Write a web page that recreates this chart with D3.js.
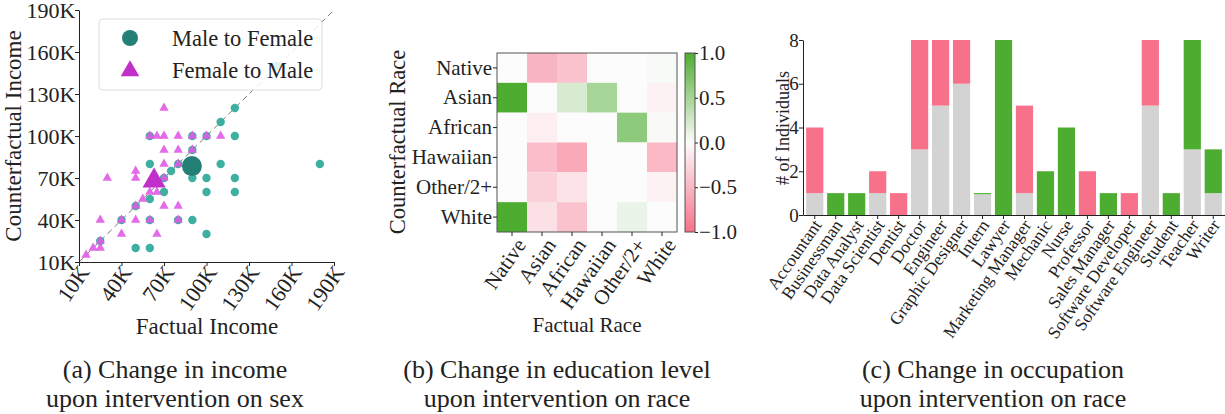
<!DOCTYPE html>
<html>
<head>
<meta charset="utf-8">
<script src="https://cdn.jsdelivr.net/npm/d3@7"></script>
<style>
  body { margin: 0; background: #fff; }
</style>
</head>
<body>
<svg id="fig" width="1225" height="414" font-family="Liberation Serif"></svg>
<script>
// (a) income, in thousands
const incomeTicks = [10, 40, 70, 100, 130, 160, 190];
const m2fFactual =        [120, 110, 120, 100, 90, 60, 90, 60, 80, 110, 180, 75, 70, 90, 100, 120, 70, 100, 120, 60, 50, 40, 60, 80, 90, 100, 50, 60, 25, 150];
const m2fCounterfactual = [120, 110, 100, 100, 100, 100, 90, 80, 80, 80, 80, 75, 70, 70, 70, 70, 60, 60, 60, 55, 50, 40, 40, 40, 40, 30, 20, 20, 25, 150];
const f2mFactual =        [70, 60, 65, 70, 80, 90, 100, 110, 70, 80, 90, 70, 80, 30, 50, 50, 70, 60, 65, 55, 50, 70, 80, 25, 40, 50, 60, 80, 40, 65, 20, 25, 15, 25];
const f2mCounterfactual = [120, 100, 100, 100, 100, 100, 100, 100, 90, 90, 90, 80, 80, 70, 75, 70, 70, 60, 60, 55, 50, 50, 50, 40, 40, 40, 40, 40, 30, 30, 20, 20, 15, 25];
const m2fMean = [89.7, 78.5];
const f2mMean = [63, 68];

// (b) race transition matrix, rows = counterfactual, cols = factual
const races = ['Native', 'Asian', 'African', 'Hawaiian', 'Other/2+', 'White'];
const raceMatrix = [
  [0, -0.52, -0.42, 0, 0, 0.03],
  [1.0, 0, 0.22, 0.49, 0, -0.08],
  [0, -0.1, 0, 0, 0.63, 0.02],
  [0, -0.45, -0.6, 0, 0, -0.48],
  [0, -0.31, -0.18, 0, 0, -0.08],
  [1.0, -0.2, -0.42, 0, 0.1, 0]
];
const colorTicks = [1.0, 0.5, 0.0, -0.5, -1.0];

// (c) occupations
const occupations = ['Accountant', 'Businessman', 'Data Analyst', 'Data Scientist', 'Dentist', 'Doctor', 'Engineer',
  'Graphic Designer', 'Intern', 'Lawyer', 'Marketing Manager', 'Mechanic', 'Nurse', 'Professor', 'Sales Manager',
  'Software Developer', 'Software Engineer', 'Student', 'Teacher', 'Writer'];
const unchanged = [1, 0, 0, 1, 0, 3, 5, 6, 0.95, 0, 1, 0, 0, 0, 0, 0, 5, 0, 3, 1];
const decreased = [3, 0, 0, 1, 1, 5, 3, 2, 0, 0, 4, 0, 0, 2, 0, 1, 3, 0, 0, 0];
const increased = [0, 1, 1, 0, 0, 0, 0, 0, 0.05, 8, 0, 2, 4, 0, 1, 0, 0, 1, 5, 2];
const countTicks = [0, 2, 4, 6, 8];

const svg = d3.select('#fig');
const FONT = 'Liberation Serif';
const ink = '#222';
const pink = '#f7718a', green = '#4dad30', grey = '#d3d3d3';

// ---------------- (a) scatter ----------------
const xA = d3.scaleLinear().domain([10, 190]).range([79, 334]);
const yA = d3.scaleLinear().domain([10, 190]).range([262, 10]);
const gA = svg.append('g');

// diagonal
gA.append('line')
  .attr('x1', xA(10)).attr('y1', yA(10)).attr('x2', xA(190)).attr('y2', yA(190))
  .attr('stroke', '#777').attr('stroke-width', 1).attr('stroke-dasharray', '6,4');

gA.selectAll('circle.m2f')
  .data(m2fFactual)
  .enter().append('circle')
  .attr('cx', d => xA(d))
  .attr('cy', (d, i) => yA(m2fCounterfactual[i]))
  .attr('r', 4.2)
  .attr('fill', '#2fa89a').attr('fill-opacity', 0.92);

const triSmall = d3.symbol().type(d3.symbolTriangle).size(38);
gA.selectAll('path.f2m')
  .data(f2mFactual)
  .enter().append('path')
  .attr('d', triSmall)
  .attr('transform', (d, i) => `translate(${xA(d)},${yA(f2mCounterfactual[i])})`)
  .attr('fill', '#e05ae6').attr('fill-opacity', 0.9);

// means
gA.append('circle')
  .attr('cx', xA(m2fMean[0])).attr('cy', yA(m2fMean[1])).attr('r', 10)
  .attr('fill', '#247f76');
gA.append('path')
  .attr('d', d3.symbol().type(d3.symbolTriangle).size(230))
  .attr('transform', `translate(${xA(f2mMean[0])},${yA(f2mMean[1])})`)
  .attr('fill', '#c22ec9');

// axes
const axA = gA.append('g').attr('transform', `translate(0,${yA(10)})`)
  .call(d3.axisBottom(xA).tickValues(incomeTicks).tickFormat(d => d + 'K').tickSize(4).tickSizeOuter(0));
axA.selectAll('text')
  .attr('font-size', 22)
  .attr('text-anchor', 'end')
  .attr('transform', 'rotate(-55)')
  .attr('dx', '-0.1em').attr('dy', '0.35em');
const ayA = gA.append('g').attr('transform', `translate(${xA(10)},0)`)
  .call(d3.axisLeft(yA).tickValues(incomeTicks).tickFormat(d => d + 'K').tickSize(4).tickSizeOuter(0));
ayA.selectAll('text').attr('font-size', 22).attr('dx', '0.15em');

gA.append('text').attr('x', 207).attr('y', 334).attr('text-anchor', 'middle')
  .attr('font-size', 23).attr('fill', ink).text('Factual Income');
gA.append('text').attr('transform', 'translate(21,136) rotate(-90)').attr('text-anchor', 'middle')
  .attr('font-size', 23).attr('fill', ink).text('Counterfactual Income');

// legend
const legA = gA.append('g');
legA.append('rect').attr('x', 99).attr('y', 19).attr('width', 223).attr('height', 71).attr('rx', 4)
  .attr('fill', '#fff').attr('fill-opacity', 0.85).attr('stroke', '#ddd');
legA.append('circle').attr('cx', 130).attr('cy', 38).attr('r', 8).attr('fill', '#247f76');
legA.append('path').attr('d', d3.symbol().type(d3.symbolTriangle).size(150))
  .attr('transform', 'translate(130,71)').attr('fill', '#c22ec9');
legA.append('text').attr('x', 172).attr('y', 46).attr('font-size', 22.5).attr('fill', ink).text('Male to Female');
legA.append('text').attr('x', 172).attr('y', 78).attr('font-size', 22.5).attr('fill', ink).text('Female to Male');

// ---------------- (b) heatmap ----------------
const xB = d3.scaleBand().domain(races).range([497, 677]);
const yB = d3.scaleBand().domain(races).range([53, 232]);
const colorB = d3.scaleLinear().domain([-1, 0, 1]).range([pink, '#fcfcfc', green]);
const gB = svg.append('g');

const cells = [];
raceMatrix.forEach((row, r) => row.forEach((v, c) => cells.push({ r: races[r], c: races[c], v })));
gB.selectAll('rect.cell')
  .data(cells)
  .enter().append('rect')
  .attr('x', d => xB(d.c)).attr('y', d => yB(d.r))
  .attr('width', xB.bandwidth()).attr('height', yB.bandwidth())
  .attr('fill', d => colorB(d.v));
gB.append('rect').attr('x', 497).attr('y', 53).attr('width', 180).attr('height', 179)
  .attr('fill', 'none').attr('stroke', '#555').attr('stroke-width', 1);

const axB = gB.append('g').attr('transform', 'translate(0,232)')
  .call(d3.axisBottom(xB).tickSize(4).tickSizeOuter(0));
axB.select('.domain').remove();
axB.selectAll('text')
  .attr('font-size', 21)
  .attr('text-anchor', 'end')
  .attr('transform', 'rotate(-55)')
  .attr('dx', '-0.1em').attr('dy', '0.6em');
const ayB = gB.append('g').attr('transform', 'translate(497,0)')
  .call(d3.axisLeft(yB).tickSize(4).tickSizeOuter(0));
ayB.select('.domain').remove();
ayB.selectAll('text').attr('font-size', 21).attr('dx', '0.1em');

gB.append('text').attr('x', 587).attr('y', 332).attr('text-anchor', 'middle')
  .attr('font-size', 21).attr('fill', ink).text('Factual Race');
gB.append('text').attr('transform', 'translate(405,142) rotate(-90)').attr('text-anchor', 'middle')
  .attr('font-size', 22.5).attr('fill', ink).text('Counterfactual Race');

// colorbar
const yCb = d3.scaleLinear().domain([-1, 1]).range([232, 53]);
const grad = svg.append('defs').append('linearGradient').attr('id', 'cbar')
  .attr('x1', 0).attr('y1', 1).attr('x2', 0).attr('y2', 0);
d3.range(-1, 1.001, 0.1).forEach(v => {
  grad.append('stop').attr('offset', ((v + 1) / 2 * 100) + '%').attr('stop-color', colorB(v));
});
gB.append('rect').attr('x', 685).attr('y', 53).attr('width', 10).attr('height', 179)
  .attr('fill', 'url(#cbar)').attr('stroke', '#555').attr('stroke-width', 1);
const cb = gB.append('g').attr('transform', 'translate(695,0)')
  .call(d3.axisRight(yCb).tickValues(colorTicks).tickFormat(d => d3.format('.1f')(d).replace('-', '\u2212')).tickSize(3).tickSizeOuter(0));
cb.select('.domain').remove();
cb.selectAll('text').attr('font-size', 21).attr('dx', '-0.1em');

// ---------------- (c) stacked bars ----------------
const xC = d3.scaleBand().domain(occupations).range([803, 1225]).paddingInner(0.18).paddingOuter(0.15);
const yC = d3.scaleLinear().domain([0, 8]).range([215, 40]);
const gC = svg.append('g');
const stackData = occupations.map((o, i) => ({ o, unchanged: unchanged[i], decreased: decreased[i], increased: increased[i] }));
const series = d3.stack().keys(['unchanged', 'decreased', 'increased'])(stackData);
const colC = { unchanged: grey, decreased: pink, increased: green };
series.forEach(s => {
  gC.selectAll(null)
    .data(s)
    .enter().append('rect')
    .attr('x', d => xC(d.data.o))
    .attr('y', d => yC(d[1]))
    .attr('width', xC.bandwidth())
    .attr('height', d => yC(d[0]) - yC(d[1]))
    .attr('fill', colC[s.key]);
});

const axC = gC.append('g').attr('transform', 'translate(0,215)')
  .call(d3.axisBottom(xC).tickSize(4).tickSizeOuter(0));
axC.selectAll('text')
  .attr('font-size', 17.5)
  .attr('text-anchor', 'end')
  .attr('transform', 'rotate(-55)')
  .attr('y', 11.9).attr('dx', -3.9).attr('dy', 0);
const ayC = gC.append('g').attr('transform', 'translate(803,0)')
  .call(d3.axisLeft(yC).tickValues(countTicks).tickSize(4).tickSizeOuter(0));
ayC.selectAll('text').attr('font-size', 19).attr('dx', '0.15em');
gC.append('text').attr('transform', 'translate(789,128) rotate(-90)').attr('text-anchor', 'middle')
  .attr('font-size', 18).attr('fill', ink).text('# of Individuals');

// shared axis styling (d3 axes set their own sans-serif font)
[axA, ayA, axB, ayB, cb, axC, ayC].forEach(a => {
  a.attr('font-family', FONT);
  a.selectAll('text').attr('fill', ink);
  a.selectAll('line').attr('stroke', ink);
  a.select('.domain').attr('stroke', ink);
});

// ---------------- captions ----------------
const captions = [
  { x: 175, lines: ['(a) Change in income', 'upon intervention on sex'] },
  { x: 557, lines: ['(b) Change in education level', 'upon intervention on race'] },
  { x: 993, lines: ['(c) Change in occupation', 'upon intervention on race'] }
];
captions.forEach(c => {
  c.lines.forEach((t, i) => {
    svg.append('text').attr('x', c.x).attr('y', 378 + i * 29).attr('text-anchor', 'middle')
      .attr('font-size', 26).attr('fill', ink).text(t);
  });
});
</script>
</body>
</html>
